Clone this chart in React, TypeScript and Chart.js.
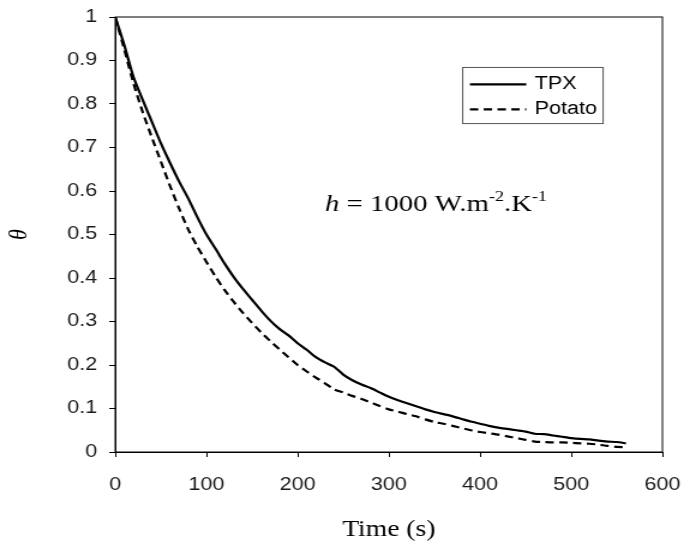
import React, { useEffect, useRef } from "react";
import { Chart, registerables } from "chart.js";

Chart.register(...registerables);

const timeS = [0, 10, 20, 30, 40, 50, 60, 70, 80, 90, 100, 110, 120, 130, 140, 150, 160, 170, 180, 190, 200, 210, 220, 230, 240, 250, 260, 270, 280, 290, 300, 310, 320, 330, 340, 350, 360, 370, 380, 390, 400, 410, 420, 430, 440, 450, 460, 470, 480, 490, 500, 510, 520, 530, 540, 550, 560];

const tpx = [1.0, 0.935, 0.862, 0.81, 0.76, 0.71, 0.665, 0.622, 0.583, 0.54, 0.5, 0.467, 0.433, 0.402, 0.375, 0.35, 0.325, 0.302, 0.283, 0.268, 0.25, 0.235, 0.218, 0.206, 0.196, 0.178, 0.165, 0.155, 0.147, 0.137, 0.127, 0.119, 0.112, 0.105, 0.098, 0.092, 0.087, 0.082, 0.076, 0.07, 0.065, 0.06, 0.056, 0.053, 0.05, 0.047, 0.042, 0.041, 0.038, 0.035, 0.032, 0.03, 0.029, 0.026, 0.024, 0.023, 0.02];

const potato = [1.0, 0.925, 0.848, 0.782, 0.724, 0.668, 0.612, 0.56, 0.512, 0.472, 0.437, 0.403, 0.372, 0.345, 0.32, 0.297, 0.275, 0.255, 0.236, 0.218, 0.2, 0.185, 0.171, 0.158, 0.144, 0.137, 0.129, 0.122, 0.114, 0.106, 0.098, 0.093, 0.087, 0.082, 0.075, 0.069, 0.065, 0.06, 0.055, 0.05, 0.046, 0.043, 0.04, 0.036, 0.032, 0.028, 0.024, 0.023, 0.022, 0.022, 0.021, 0.02, 0.019, 0.017, 0.014, 0.012, 0.011];

const xTicks = [0, 100, 200, 300, 400, 500, 600];
const yTicks = [0, 0.1, 0.2, 0.3, 0.4, 0.5, 0.6, 0.7, 0.8, 0.9, 1];
const seriesNames = ["TPX", "Potato"];
const xTitle = "Time (s)";
const yTitle = "\u03B8";

const SANS = "'Liberation Sans', Arial, sans-serif";
const SERIF = "'Liberation Serif', 'Times New Roman', serif";
const DASH = [7, 4.5];

// The original picture is horizontally stretched; draw at 570 wide and stretch to 684.
const LOGICAL_W = 570;
const H = 544;

export default function App() {
  const ref = useRef<HTMLCanvasElement>(null);

  useEffect(() => {
    document.body.style.margin = "0";
    const canvas = ref.current;
    if (!canvas) return;

    const framePlugin = {
      id: "frame",
      afterDraw(chart: any) {
        const { ctx, chartArea: a, scales } = chart;
        ctx.save();
        ctx.strokeStyle = "#000";
        ctx.lineWidth = 1;
        ctx.strokeRect(a.left, a.top, a.right - a.left, a.bottom - a.top);

        const xs = scales.x;
        const ys = scales.y;
        // legend box, anchored in data space at top-right of the plot
        const lx0 = xs.getPixelForValue(381);
        const lx1 = xs.getPixelForValue(535);
        const ly0 = ys.getPixelForValue(0.884);
        const ly1 = ys.getPixelForValue(0.755);
        ctx.fillStyle = "#fff";
        ctx.fillRect(lx0, ly0, lx1 - lx0, ly1 - ly0);
        ctx.strokeStyle = "#555";
        ctx.lineWidth = 1;
        ctx.strokeRect(lx0, ly0, lx1 - lx0, ly1 - ly0);
        const rowCenters = [ly0 + 17, ly0 + 42];
        const dashes = [[], DASH];
        seriesNames.forEach((name, i) => {
          const cy = rowCenters[i];
          ctx.beginPath();
          ctx.setLineDash(dashes[i]);
          ctx.lineWidth = 2.2;
          ctx.strokeStyle = "#000";
          ctx.moveTo(lx0 + 6, cy);
          ctx.lineTo(lx0 + 53, cy);
          ctx.stroke();
          ctx.setLineDash([]);
          ctx.fillStyle = "#000";
          ctx.font = "18px " + SANS;
          ctx.textBaseline = "middle";
          ctx.textAlign = "left";
          ctx.fillText(name, lx0 + 60, cy);
        });

        // annotation h = 1000 W.m-2.K-1
        let tx = xs.getPixelForValue(230);
        const ty = ys.getPixelForValue(0.555);
        ctx.textBaseline = "alphabetic";
        ctx.textAlign = "left";
        ctx.fillStyle = "#000";
        const parts: [string, string, number][] = [
          ["h", "italic 24px " + SERIF, 0],
          [" = 1000 W.m", "24px " + SERIF, 0],
          ["-2", "15px " + SERIF, -10],
          [".K", "24px " + SERIF, 0],
          ["-1", "15px " + SERIF, -10],
        ];
        parts.forEach(([t, f, dy]) => {
          ctx.font = f;
          ctx.fillText(t, tx, ty + dy);
          tx += ctx.measureText(t).width;
        });
        ctx.restore();
      },
    };

    const chart = new Chart(canvas, {
      type: "line",
      data: {
        datasets: [
          {
            label: seriesNames[0],
            data: timeS.map((t, i) => ({ x: t, y: tpx[i] })),
            borderColor: "#000",
            borderWidth: 2.2,
            pointRadius: 0,
            fill: false,
            tension: 0.2,
          },
          {
            label: seriesNames[1],
            data: timeS.map((t, i) => ({ x: t, y: potato[i] })),
            borderColor: "#000",
            borderWidth: 2.2,
            borderDash: DASH,
            pointRadius: 0,
            fill: false,
            tension: 0.2,
          },
        ],
      },
      options: {
        animation: false,
        responsive: false,
        maintainAspectRatio: false,
        layout: { padding: { left: 0, top: 17, right: 18, bottom: 0 } },
        plugins: { legend: { display: false }, tooltip: { enabled: false } },
        scales: {
          x: {
            type: "linear",
            min: 0,
            max: 600,
            afterBuildTicks: (s: any) => {
              s.ticks = xTicks.map((v) => ({ value: v }));
            },
            afterFit: (s: any) => {
              s.height = 92;
              s.paddingLeft = 0;
              s.paddingRight = 0;
            },
            grid: {
              display: true,
              drawOnChartArea: false,
              drawTicks: true,
              tickLength: 5,
              color: "#000",
            },
            border: { display: true, color: "#000", width: 1 },
            ticks: {
              color: "#1a1a1a",
              font: { family: SANS, size: 18 },
              padding: 17,
              maxRotation: 0,
            },
            title: {
              display: true,
              text: xTitle,
              color: "#000",
              font: { family: SERIF, size: 23 },
              padding: { top: 0, bottom: 0 },
            },
          },
          y: {
            type: "linear",
            min: 0,
            max: 1,
            afterBuildTicks: (s: any) => {
              s.ticks = yTicks.map((v) => ({ value: v }));
            },
            afterFit: (s: any) => {
              s.width = 96;
              s.paddingTop = 0;
              s.paddingBottom = 0;
            },
            grid: {
              display: true,
              drawOnChartArea: false,
              drawTicks: true,
              tickLength: 5,
              color: "#000",
            },
            border: { display: true, color: "#000", width: 1 },
            ticks: {
              color: "#1a1a1a",
              font: { family: SANS, size: 18 },
              padding: 10,
              callback: (v: any) => String(Math.round(Number(v) * 10) / 10),
            },
            title: {
              display: true,
              text: yTitle,
              color: "#000",
              font: { family: SERIF, size: 22, style: "italic" },
              padding: { top: 3, bottom: 0 },
            },
          },
        },
      },
      plugins: [framePlugin],
    });

    return () => chart.destroy();
  }, []);

  return (
    <div style={{ width: 684, height: H }}>
      <canvas
        ref={ref}
        width={LOGICAL_W}
        height={H}
        style={{ display: "block", width: "684px", height: H + "px" }}
      />
    </div>
  );
}
